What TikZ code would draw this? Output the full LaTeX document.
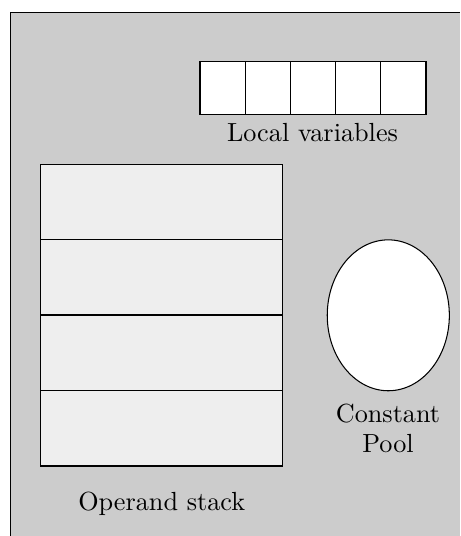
\documentclass[tikz,border=0pt]{standalone}
\usetikzlibrary{shapes.geometric}
\definecolor{bggray}{HTML}{CCCCCC}
\definecolor{cellgray}{HTML}{EEEEEE}
\begin{document}
\begin{tikzpicture}[x=0.3817pt,y=-0.3817pt,
  lvcell/.style={draw,fill=white,rectangle,inner sep=0pt,minimum width=17.25pt,minimum height=20.08pt},
  stcell/.style={draw,fill=cellgray,rectangle,inner sep=0pt,minimum width=92.4pt,minimum height=28.8pt},
  label/.style={inner sep=0pt,font=\normalsize}]
\useasboundingbox (0,0) rectangle (460,536);
\clip (0,0) rectangle (460,536);
\draw[fill=bggray] (10.5,12.5) rectangle (480,560);
% local variables
\node[lvcell] (lv1) at (222.6,88) {};
\node[lvcell] (lv2) at (267.8,88) {};
\node[lvcell] (lv3) at (313,88) {};
\node[lvcell] (lv4) at (358.2,88) {};
\node[lvcell] (lv5) at (403.4,88) {};
\node[label,anchor=base] (lvtext) at (312.5,141.7) {Local variables};
% operand stack
\node[stcell] (s1) at (161.7,201.75) {};
\node[stcell] (s2) at (161.7,277.25) {};
\node[stcell] (s3) at (161.7,352.75) {};
\node[stcell] (s4) at (161.7,428.25) {};
\node[label,anchor=base] (sttext) at (161.7,510) {Operand stack};
% constant pool
\node[draw,fill=white,ellipse,inner sep=0pt,minimum width=46.6pt,minimum height=57.6pt] (cp) at (388.3,315.3) {};
\node[label,anchor=base,align=center] (cptext) at (388,452.3) {Constant\\[-0.6pt]Pool};
\end{tikzpicture}
\end{document}
